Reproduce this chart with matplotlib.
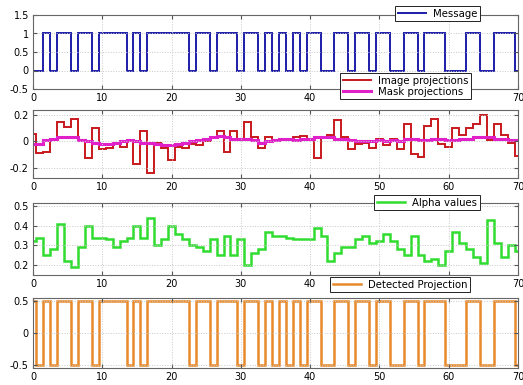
import matplotlib
matplotlib.use('Agg')
import matplotlib.pyplot as plt
import numpy as np

# sample k covers [k-0.5, k+0.5], clipped to [0, 70]
message = [0, 0, 1, 0, 1, 1, 0, 1, 1, 0,
           1, 1, 1, 1, 0, 1, 0, 1, 1, 1,
           1, 1, 1, 0, 1, 1, 0, 1, 1, 1,
           0, 1, 1, 0, 1, 0, 1, 0, 1, 0,
           1, 1, 0, 0, 1, 1, 0, 1, 1, 0,
           1, 1, 0, 0, 1, 1, 0, 1, 1, 1,
           0, 0, 0, 1, 1, 0, 0, 1, 1, 1, 0]

image_proj = [0.06, -0.09, -0.08, 0.02, 0.15, 0.11, 0.17, 0.0, -0.13, 0.10,
              -0.06, -0.05, -0.01, -0.04, 0.01, -0.17, 0.08, -0.24, -0.01, -0.05,
              -0.14, -0.04, -0.05, -0.02, -0.03, 0.0, 0.03, 0.08, -0.08, 0.08,
              0.02, 0.15, 0.03, -0.05, 0.03, 0.01, 0.01, 0.02, 0.03, 0.04,
              0.02, -0.13, 0.03, 0.05, 0.16, 0.03, -0.06, -0.02, -0.01, -0.05,
              0.02, -0.03, 0.02, -0.06, 0.13, -0.10, -0.12, 0.12, 0.17, -0.02,
              -0.04, 0.10, 0.05, 0.10, 0.13, 0.20, 0.01, 0.13, 0.05, -0.01, -0.11]

mask_proj = [-0.02, -0.02, 0.01, 0.02, 0.03, 0.03, 0.03, 0.01, 0.0, -0.01,
             -0.02, -0.02, -0.01, 0.0, 0.01, 0.0, -0.01, -0.01, -0.02, -0.03,
             -0.03, -0.02, -0.01, 0.0, 0.01, 0.02, 0.03, 0.04, 0.03, 0.02,
             0.02, 0.02, 0.01, -0.01, 0.0, 0.01, 0.02, 0.02, 0.01, 0.02,
             0.02, 0.03, 0.03, 0.03, 0.02, 0.02, 0.01, 0.0, 0.0, 0.0,
             0.01, 0.0, 0.01, 0.0, 0.02, 0.02, 0.01, 0.01, 0.02, 0.02,
             0.01, 0.01, 0.02, 0.02, 0.03, 0.03, 0.03, 0.02, 0.02, 0.01, 0.01]

alpha_vals = [0.32, 0.34, 0.25, 0.28, 0.41, 0.22, 0.19, 0.29, 0.40, 0.34,
              0.34, 0.33, 0.29, 0.32, 0.34, 0.40, 0.34, 0.44, 0.30, 0.33,
              0.40, 0.36, 0.33, 0.30, 0.29, 0.27, 0.33, 0.25, 0.35, 0.25,
              0.33, 0.20, 0.26, 0.28, 0.37, 0.35, 0.35, 0.34, 0.33, 0.33,
              0.33, 0.39, 0.35, 0.22, 0.26, 0.29, 0.29, 0.33, 0.35, 0.31,
              0.32, 0.36, 0.32, 0.28, 0.25, 0.35, 0.25, 0.22, 0.23, 0.20,
              0.27, 0.37, 0.31, 0.28, 0.24, 0.21, 0.43, 0.31, 0.24, 0.30, 0.27]

detected = [0.5, -0.5, 0.5, -0.5, 0.5, 0.5, -0.5, 0.5, 0.5, -0.5,
            0.5, 0.5, 0.5, 0.5, -0.5, 0.5, -0.5, 0.5, 0.5, 0.5,
            0.5, 0.5, 0.5, -0.5, 0.5, 0.5, -0.5, 0.5, 0.5, 0.5,
            -0.5, 0.5, 0.5, -0.5, 0.5, -0.5, 0.5, -0.5, 0.5, -0.5,
            0.5, 0.5, -0.5, -0.5, 0.5, 0.5, -0.5, 0.5, 0.5, -0.5,
            0.5, 0.5, -0.5, -0.5, 0.5, 0.5, -0.5, 0.5, 0.5, 0.5,
            -0.5, -0.5, -0.5, 0.5, 0.5, -0.5, -0.5, 0.5, 0.5, 0.5, -0.5]

xticks = [0, 10, 20, 30, 40, 50, 60, 70]

edges = np.concatenate([[0], np.arange(0.5, 70, 1), [70]])

W, H = 523, 385
fig = plt.figure(figsize=(W / 100, H / 100), dpi=100)
plt.rcParams['font.family'] = ['DejaVu Sans']

def box(top, bottom):
    return [33 / W, 1 - bottom / H, 485 / W, (bottom - top) / H]

def style(ax, ylim, yticks, hide=()):
    ax.set_xlim(0, 70)
    ax.set_ylim(*ylim)
    ax.set_xticks(xticks)
    # labels sitting under the next panel's legend are not visible in the original
    ax.set_xticklabels(['' if t in hide else str(t) for t in xticks])
    ax.set_yticks(yticks)
    ax.set_yticklabels([('%g' % t) for t in yticks])
    ax.tick_params(direction='in', labelsize=7, length=3, color='#555555',
                   top=True, right=True, pad=3)
    ax.grid(True, color='#c8c8c8', linestyle=':', linewidth=0.7)
    for s in ax.spines.values():
        s.set_color('#666666')
        s.set_linewidth(0.8)

def legend(ax, x, y):
    lg = ax.legend(loc='upper left', bbox_to_anchor=(x / W, 1 - y / H),
                   bbox_transform=fig.transFigure, fontsize=7.3, frameon=True,
                   fancybox=False, handlelength=2.8, borderpad=0.25,
                   labelspacing=0.1, handletextpad=0.7, borderaxespad=0)
    lg.get_frame().set_edgecolor('#222222')
    lg.get_frame().set_linewidth(0.7)
    lg.get_frame().set_alpha(1)

ax1 = fig.add_axes(box(15, 89))
ax1.stairs(message, edges, color='#1c1ca8', linewidth=1.4, baseline=None, label='Message')
style(ax1, (-0.5, 1.5), [-0.5, 0, 0.5, 1, 1.5], hide=(50, 60))
legend(ax1, 395, 6)

ax2 = fig.add_axes(box(110, 178))
ax2.stairs(image_proj, edges, color='#c8181c', linewidth=1.4, baseline=None, label='Image projections')
ax2.stairs(mask_proj, edges, color='#e020c8', linewidth=2.2, baseline=None, label='Mask projections')
style(ax2, (-0.28, 0.24), [-0.2, 0, 0.2])
legend(ax2, 340, 73)

ax3 = fig.add_axes(box(203, 275))
ax3.stairs(alpha_vals, edges, color='#30dc30', linewidth=1.8, baseline=None, label='Alpha values')
style(ax3, (0.148, 0.517), [0.2, 0.3, 0.4, 0.5], hide=(50, 60))
legend(ax3, 374, 195)

ax4 = fig.add_axes(box(298, 368))
ax4.stairs(detected, edges, color='#e8892a', linewidth=1.8, baseline=None, label='Detected Projection')
style(ax4, (-0.555, 0.555), [-0.5, 0, 0.5])
legend(ax4, 330, 277)

fig.savefig('out.png', dpi=100)
